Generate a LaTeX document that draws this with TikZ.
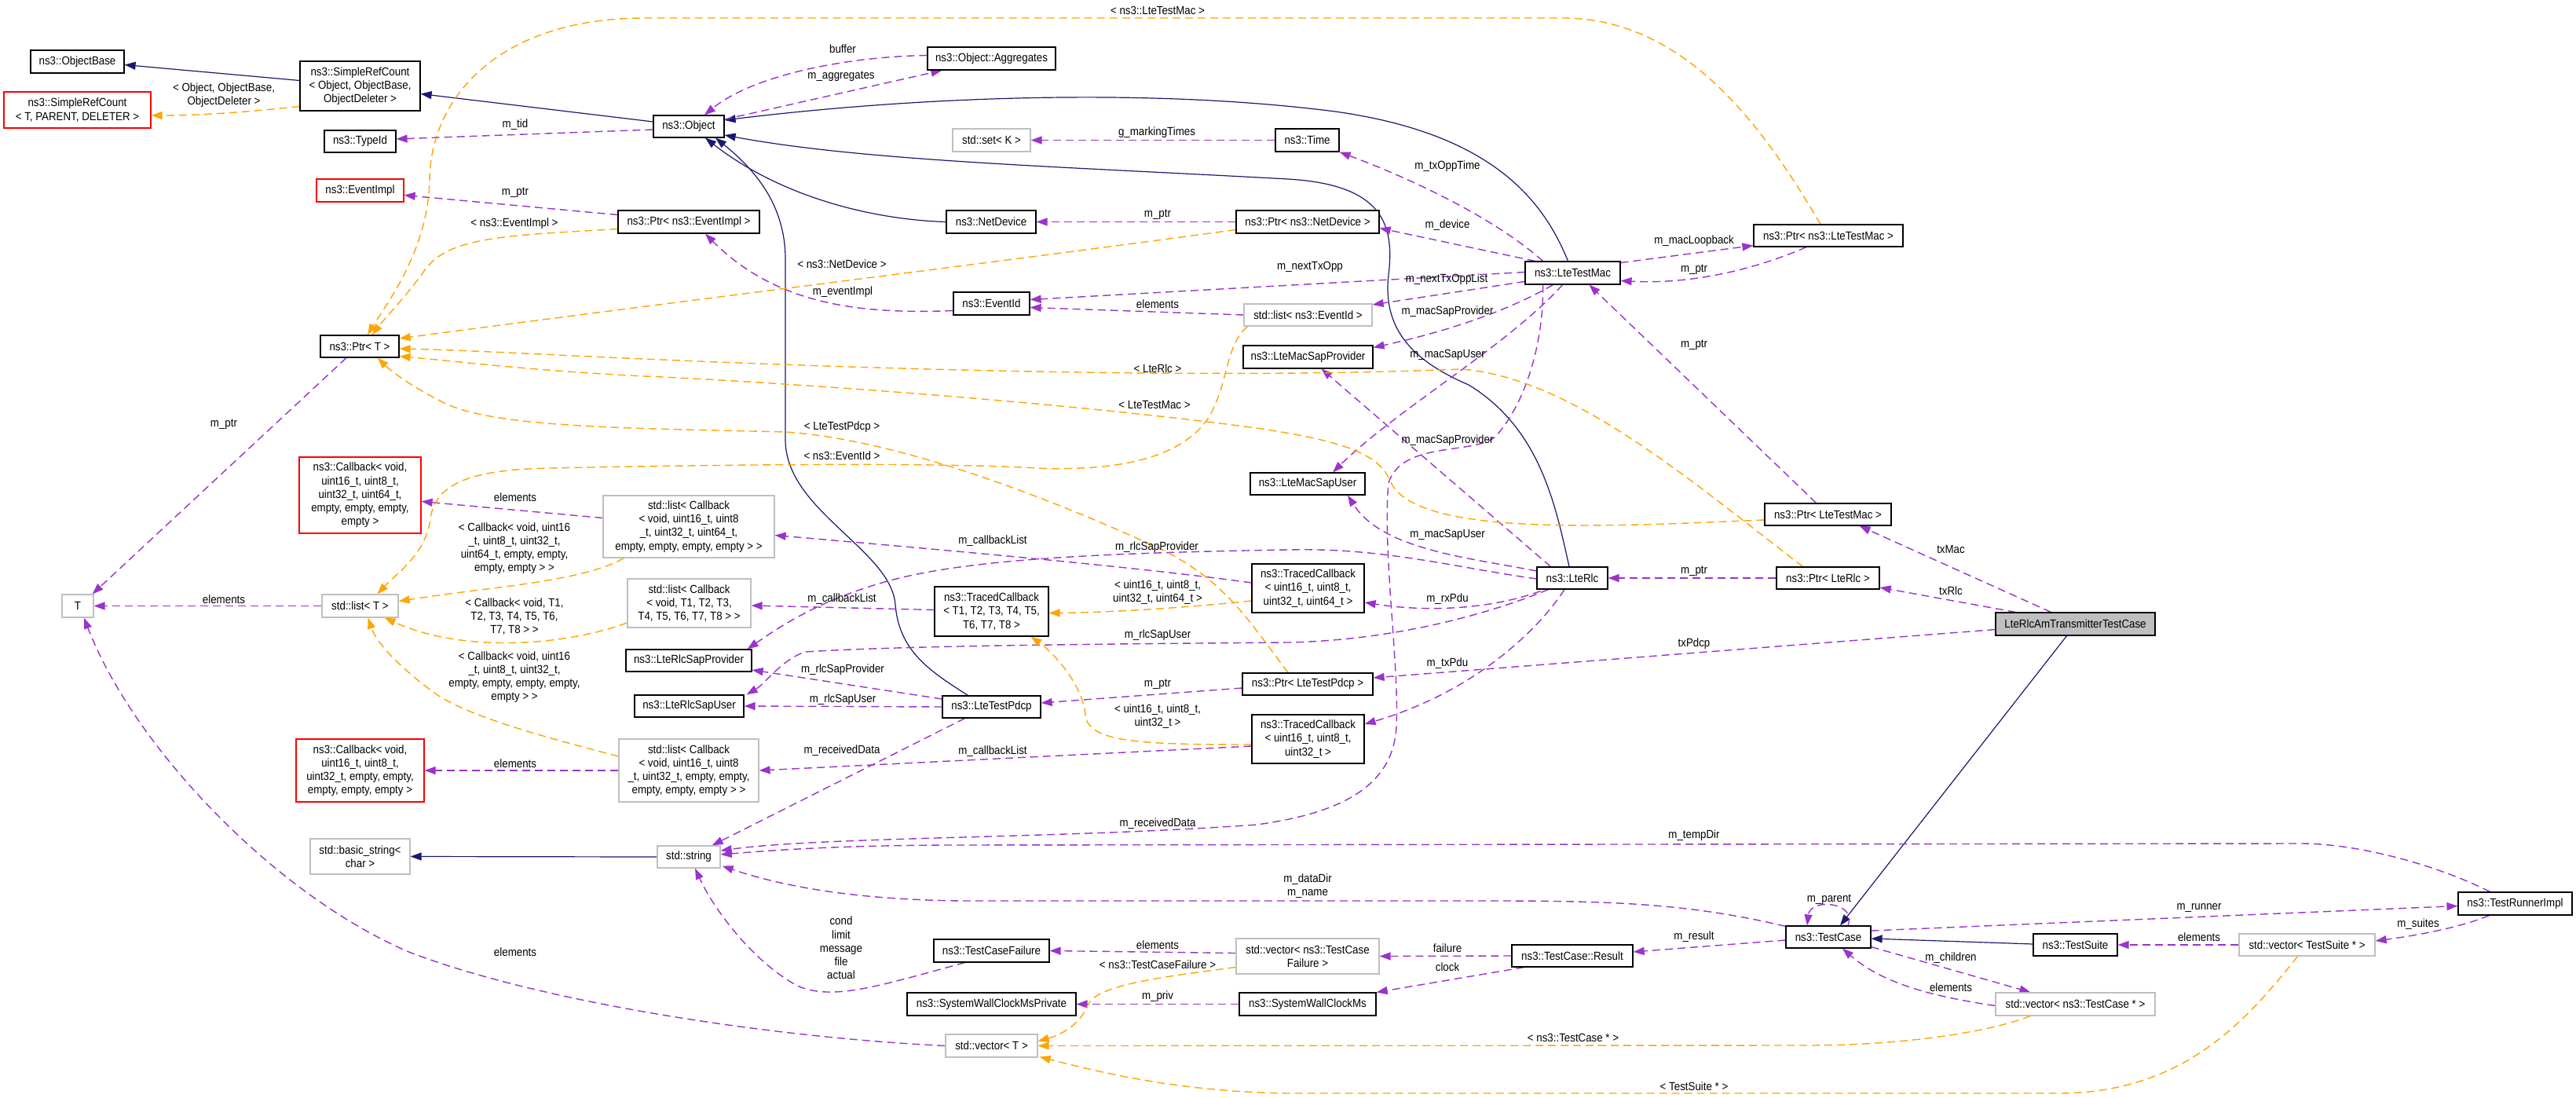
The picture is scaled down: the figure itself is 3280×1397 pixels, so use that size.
\documentclass[tikz,border=0pt]{standalone}
\usepackage{fontspec}
\setmainfont{Liberation Sans}[FakeStretch=0.9]
\usetikzlibrary{arrows.meta,calc,backgrounds}
\definecolor{navyc}{HTML}{191970}
\definecolor{purc}{HTML}{9A32CD}
\definecolor{orc}{HTML}{FFA500}
\definecolor{grayb}{HTML}{BFBFBF}
\definecolor{redb}{HTML}{FF0000}
\newcommand{\dxfont}{\fontsize{7.4}{8.6}\selectfont}
\tikzset{
  box/.style={draw=black, line width=0.6pt, rectangle, fill=white, inner sep=0pt, align=center, font=\dxfont},
  gbox/.style={box, draw=grayb},
  rbox/.style={box, draw=redb},
  sz/.style 2 args={minimum width=#1*0.5pt, minimum height=#2*0.5pt},
  lbl/.style={inner sep=0pt, align=center, font=\dxfont},
  inh/.style={draw=navyc, line width=0.6pt, -{Triangle[length=7pt,width=5pt]}},
  use/.style={draw=purc, line width=0.7pt, dash pattern=on 5pt off 3pt, -{Triangle[length=7pt,width=5pt]}},
  tmpl/.style={draw=orc, line width=0.7pt, dash pattern=on 5pt off 3pt, -{Triangle[length=7pt,width=5pt]}}
}
\begin{document}
\begin{tikzpicture}[x=0.5pt,y=-0.5pt]
\useasboundingbox (0,0) rectangle (3280,1397);
% ---------- nodes ----------
\node[box, sz={119}{29}] (objbase) at (98.5,78.5) {ns3::ObjectBase};
\node[box, sz={153}{63}] (src) at (458.5,109.5) {ns3::SimpleRefCount\\< Object, ObjectBase,\\ObjectDeleter >};
\node[rbox, sz={187}{46}] (srct) at (98.5,140) {ns3::SimpleRefCount\\< T, PARENT, DELETER >};
\node[box, sz={91}{28}] (typeid) at (458.5,180) {ns3::TypeId};
\node[rbox, sz={111}{29}] (eventimpl) at (458.5,242.5) {ns3::EventImpl};
\node[box, sz={100}{28}] (ptrt) at (458,441) {ns3::Ptr< T >};
\node[box, sz={163}{29}] (aggr) at (1262.5,74.5) {ns3::Object::Aggregates};
\node[box, sz={90}{28}] (object) at (877,161) {ns3::Object};
\node[gbox, sz={99}{29}] (setk) at (1262.5,178.5) {std::set< K >};
\node[box, sz={81}{29}] (time) at (1664.5,178.5) {ns3::Time};
\node[box, sz={114}{29}] (netdev) at (1262,282.5) {ns3::NetDevice};
\node[box, sz={180}{29}] (ptrev) at (877,282.5) {ns3::Ptr< ns3::EventImpl >};
\node[box, sz={97}{29}] (eventid) at (1262.5,386.5) {ns3::EventId};
\node[box, sz={182}{29}] (ptrnd) at (1665,282.5) {ns3::Ptr< ns3::NetDevice >};
\node[gbox, sz={163}{28}] (listev) at (1665.5,401) {std::list< ns3::EventId >};
\node[box, sz={165}{29}] (macprov) at (1665.5,454.5) {ns3::LteMacSapProvider};
\node[box, sz={121}{29}] (testmac) at (2002.5,347.5) {ns3::LteTestMac};
\node[box, sz={190}{28}] (ptrltm) at (2328,300) {ns3::Ptr< ns3::LteTestMac >};
\node[gbox, sz={40}{29}] (tnode) at (99,771.5) {T};
\node[gbox, sz={97}{29}] (listt) at (458.5,771.5) {std::list< T >};
\node[rbox, sz={155}{97}] (cbfive) at (458.5,630.5) {ns3::Callback< void,\\uint16\_t, uint8\_t,\\uint32\_t, uint64\_t,\\empty, empty, empty,\\empty >};
\node[gbox, sz={218}{79}] (listcba) at (877,670.5) {std::list< Callback\\< void, uint16\_t, uint8\\\_t, uint32\_t, uint64\_t,\\empty, empty, empty, empty > >};
\node[gbox, sz={157}{62}] (listcbt) at (877.5,768) {std::list< Callback\\< void, T1, T2, T3,\\T4, T5, T6, T7, T8 > >};
\node[box, sz={160}{28}] (rlcprov) at (877,841) {ns3::LteRlcSapProvider};
\node[box, sz={139}{28}] (rlcuser) at (877.5,899) {ns3::LteRlcSapUser};
\node[box, sz={145}{63}] (tcb) at (1262.5,778.5) {ns3::TracedCallback\\< T1, T2, T3, T4, T5,\\T6, T7, T8 >};
\node[box, sz={125}{28}] (pdcp) at (1262.5,900) {ns3::LteTestPdcp};
\node[box, sz={143}{62}] (tcfour) at (1665.5,749) {ns3::TracedCallback\\< uint16\_t, uint8\_t,\\uint32\_t, uint64\_t >};
\node[box, sz={166}{28}] (ptrpdcp) at (1665,871) {ns3::Ptr< LteTestPdcp >};
\node[box, sz={146}{28}] (macuser) at (1665,616) {ns3::LteMacSapUser};
\node[box, sz={90}{28}] (rlc) at (2002,736) {ns3::LteRlc};
\node[box, sz={161}{28}] (ptrltmb) at (2327.5,655) {ns3::Ptr< LteTestMac >};
\node[box, sz={131}{28}] (ptrrlc) at (2327.5,736) {ns3::Ptr< LteRlc >};
\node[box, sz={143}{62}] (tcthree) at (1665.5,941) {ns3::TracedCallback\\< uint16\_t, uint8\_t,\\uint32\_t >};
\node[box, fill=grayb, sz={203}{29}] (main) at (2642.5,794.5) {LteRlcAmTransmitterTestCase};
\node[rbox, sz={163}{80}] (cbfour) at (458.5,981) {ns3::Callback< void,\\uint16\_t, uint8\_t,\\uint32\_t, empty, empty,\\empty, empty, empty >};
\node[gbox, sz={127}{45}] (basicstr) at (458.5,1090.5) {std::basic\_string<\\char >};
\node[gbox, sz={178}{80}] (listcbe) at (877,981) {std::list< Callback\\< void, uint16\_t, uint8\\\_t, uint32\_t, empty, empty,\\empty, empty, empty > >};
\node[gbox, sz={80}{28}] (stdstr) at (877,1091) {std::string};
\node[box, sz={147}{29}] (tcf) at (1262.5,1210.5) {ns3::TestCaseFailure};
\node[box, sz={215}{29}] (swcp) at (1262.5,1278.5) {ns3::SystemWallClockMsPrivate};
\node[gbox, sz={117}{29}] (vect) at (1262.5,1331.5) {std::vector< T >};
\node[gbox, sz={182}{45}] (vectcf) at (1665,1217.5) {std::vector< ns3::TestCase\\Failure >};
\node[box, sz={174}{29}] (swc) at (1665,1278.5) {ns3::SystemWallClockMs};
\node[box, sz={154}{28}] (result) at (2002,1217) {ns3::TestCase::Result};
\node[box, sz={108}{28}] (testcase) at (2328,1193) {ns3::TestCase};
\node[box, sz={107}{28}] (testsuite) at (2642.5,1203) {ns3::TestSuite};
\node[gbox, sz={173}{28}] (vects) at (2937.5,1203) {std::vector< TestSuite * >};
\node[box, sz={145}{29}] (runner) at (3202.5,1150.5) {ns3::TestRunnerImpl};
\node[gbox, sz={203}{29}] (vectc) at (2642.5,1278.5) {std::vector< ns3::TestCase * >};
% ---------- edges ----------
\begin{pgfonlayer}{background}
\fill[white] (0,0) rectangle (3280,1397);
% inheritance
\draw[inh] ($(src.west)+(0,-7)$) -- ($(objbase.east)+(0,4)$);
\draw[inh] ($(object.west)+(0,-6)$) -- ($(src.east)+(0,10)$);
\draw[inh] (netdev.west) .. controls (1120,280) and (1000,255) .. ($(object.south)+(21,0)$);
\draw[inh] ($(pdcp.north)+(-30,0)$) .. controls (1185,855) and (1145,830) .. (1140,770) .. controls (1135,700) and (1000,650) .. (1000,560) -- (1000,330) .. controls (1000,260) and (960,215) .. ($(object.south)+(34,0)$);
\draw[inh] ($(testmac.north)+(-6,0)$) .. controls (1965,255) and (1900,170) .. (1700,142) .. controls (1450,110) and (1150,125) .. ($(object.east)+(0,-8)$);
\draw[inh] ($(rlc.north)+(-4,0)$) .. controls (1980,640) and (1960,545) .. (1870,490) .. controls (1800,460) and (1760,420) .. (1768,350) .. controls (1776,285) and (1760,235) .. (1640,228) .. controls (1350,212) and (1100,205) .. ($(object.east)+(0,11)$);
\draw[inh] (stdstr.west) -- (basicstr.east);
\draw[inh] ($(main.south)+(-11,0)$) -- ($(testcase.north)+(15,0)$);
\draw[inh] ($(testsuite.west)+(0,-1)$) -- ($(testcase.east)+(0,2)$);
% usage
\draw[use] ($(object.west)+(0,4)$) -- ($(typeid.east)+(0,-3)$);
\draw[use] ($(aggr.west)+(0,-4)$) .. controls (1080,72) and (960,95) .. ($(object.north)+(20,0)$);
\draw[use] ($(object.east)+(0,-9)$) -- ($(aggr.south west)+(19,0)$);
\draw[use] ($(ptrev.west)+(0,-9)$) -- ($(eventimpl.east)+(0,6)$);
\draw[use] ($(ptrt.south)+(-17,0)$) -- ($(tnode.north east)+(-2,0)$);
\draw[use] (time.west) -- (setk.east);
\draw[use] (ptrnd.west) -- (netdev.east);
\draw[use] ($(eventid.west)+(0,9)$) .. controls (1100,400) and (990,390) .. ($(ptrev.south)+(21,0)$);
\draw[use] (listev.west) -- ($(eventid.east)+(0,5)$);
\draw[use] ($(testmac.north)+(-38,0)$) .. controls (1900,275) and (1790,225) .. (time.south east);
\draw[use] ($(testmac.north west)+(13,0)$) -- ($(ptrnd.east)+(0,8)$);
\draw[use] ($(testmac.west)+(0,-1)$) -- ($(eventid.east)+(0,-5)$);
\draw[use] ($(testmac.west)+(0,11)$) -- ($(listev.east)+(0,-13)$);
\draw[use] ($(testmac.south)+(-25,0)$) .. controls (1930,390) and (1860,418) .. ($(macprov.east)+(0,-12)$);
\draw[use] ($(testmac.south)+(-13,0)$) .. controls (1920,440) and (1780,520) .. ($(macuser.north)+(32,0)$);
\draw[use] ($(testmac.east)+(0,-13)$) -- ($(ptrltm.south west)+(0,-2)$);
\draw[use] ($(ptrltm.south)+(-28,0)$) .. controls (2230,345) and (2150,362) .. ($(testmac.east)+(0,10)$);
\draw[use] ($(ptrltmb.north)+(-15,0)$) -- ($(testmac.south)+(21,0)$);
\draw[use] ($(testmac.south)+(-38,0)$) .. controls (1966,430) and (1945,510) .. (1905,555) .. controls (1880,580) and (1785,560) .. (1768,615) .. controls (1760,700) and (1782,850) .. (1778,925) .. controls (1774,1000) and (1710,1035) .. (1600,1050) .. controls (1350,1068) and (1050,1065) .. ($(stdstr.east)+(0,-8)$);
\draw[use] ($(rlc.north west)+(18,0)$) -- ($(macprov.south)+(17,0)$);
\draw[use] ($(rlc.west)+(0,-9)$) .. controls (1870,710) and (1760,700) .. ($(macuser.south)+(51,0)$);
\draw[use] ($(tcfour.west)+(0,-7)$) .. controls (1450,722) and (1200,700) .. ($(listcba.east)+(0,11)$);
\draw[use] ($(tcb.west)+(0,-2)$) -- ($(listcbt.east)+(0,3)$);
\draw[use] ($(tcthree.west)+(0,9)$) -- (listcbe.east);
\draw[use] ($(rlc.south west)+(5,2)$) .. controls (1900,775) and (1820,780) .. ($(tcfour.east)+(0,18)$);
\draw[use] ($(rlc.south)+(-10,0)$) .. controls (1960,800) and (1880,880) .. ($(tcthree.east)+(0,-19)$);
\draw[use] ($(rlc.west)+(0,1)$) .. controls (1850,722) and (1760,697) .. (1640,700) .. controls (1400,704) and (1230,712) .. (1130,740) .. controls (1040,765) and (990,800) .. ($(rlcprov.north east)+(-6,0)$);
\draw[use] ($(rlc.south west)+(15,0)$) .. controls (1900,780) and (1780,815) .. (1640,818) .. controls (1400,820) and (1150,822) .. (1025,830) .. controls (995,840) and (975,870) .. ($(rlcuser.north east)+(3,0)$);
\draw[use] ($(pdcp.west)+(0,-10)$) -- ($(rlcprov.east)+(0,12)$);
\draw[use] (pdcp.west) -- (rlcuser.east);
\draw[use] ($(ptrpdcp.west)+(0,5)$) -- ($(pdcp.east)+(0,-5)$);
\draw[use] ($(pdcp.south)+(-34,0)$) -- ($(stdstr.north east)+(-11,0)$);
\draw[use] ($(main.north)+(-31,0)$) -- ($(ptrltmb.south east)+(-41,0)$);
\draw[use] ($(main.north)+(-76,0)$) -- ($(ptrrlc.east)+(0,12)$);
\draw[use] ($(main.west)+(0,7)$) -- ($(ptrpdcp.east)+(0,-8)$);
\draw[use] (ptrrlc.west) -- (rlc.east);
\draw[use] ($(testcase.north west)+(0,1)$) .. controls (2150,1150) and (2050,1147) .. (1900,1147) -- (1240,1147) .. controls (1100,1147) and (1000,1130) .. ($(stdstr.south east)+(2,-3)$);
\draw[use] ($(runner.north)+(-32,0)$) .. controls (3100,1100) and (3000,1074) .. (2930,1074) -- (1200,1076) .. controls (1050,1077) and (980,1083) .. ($(stdstr.east)+(0,-3)$);
\draw[use] ($(testcase.north)+(25,0)$) .. controls (2365,1148) and (2305,1143) .. ($(testcase.north)+(-27,0)$);
\draw[use] ($(testcase.west)+(0,4)$) -- ($(result.east)+(0,-5)$);
\draw[use] (result.west) -- (vectcf.east);
\draw[use] ($(result.south west)+(16,0)$) -- (swc.north east);
\draw[use] ($(vectcf.west)+(0,-4)$) -- (tcf.east);
\draw[use] (swc.west) -- (swcp.east);
\draw[use] ($(tcf.south)+(-34,0)$) .. controls (1120,1255) and (1060,1275) .. (1015,1255) .. controls (960,1225) and (910,1160) .. ($(stdstr.south)+(8,0)$);
\draw[use] (vect.west) .. controls (1000,1322) and (700,1280) .. (523,1213) .. controls (350,1140) and (170,950) .. ($(tnode.south)+(8,0)$);
\draw[use] (listt.west) -- (tnode.east);
\draw[use] ($(listcba.west)+(0,-11)$) -- ($(cbfive.east)+(0,8)$);
\draw[use] (listcbe.west) -- (cbfour.east);
\draw[use] ($(testcase.east)+(0,-8)$) -- ($(runner.west)+(0,3)$);
\draw[use] ($(runner.south)+(-33,0)$) .. controls (3130,1182) and (3070,1192) .. ($(vects.east)+(0,-5)$);
\draw[use] (vects.west) -- (testsuite.east);
\draw[use] ($(testcase.south east)+(0,-2)$) -- ($(vectc.north)+(-57,0)$);
\draw[use] ($(vectc.west)+(0,2)$) .. controls (2470,1270) and (2400,1255) .. ($(testcase.south)+(18,0)$);
% template instances
\draw[tmpl] ($(src.west)+(0,26)$) .. controls (320,142) and (260,147) .. ($(srct.east)+(0,7)$);
\draw[tmpl] ($(ptrltm.north)+(-10,0)$) .. controls (2250,170) and (2150,23) .. (1990,23) -- (820,23) .. controls (640,23) and (548,120) .. (547,230) .. controls (545,320) and (490,390) .. ($(ptrt.north)+(10,0)$);
\draw[tmpl] ($(ptrev.west)+(0,9)$) .. controls (650,300) and (570,300) .. (540,345) .. controls (515,380) and (490,405) .. ($(ptrt.north)+(16,0)$);
\draw[tmpl] ($(ptrnd.west)+(0,10)$) .. controls (1300,330) and (800,392) .. ($(ptrt.east)+(0,-10)$);
\draw[tmpl] ($(ptrrlc.north)+(-32,0)$) .. controls (2150,610) and (2000,480) .. (1860,470) .. controls (1500,485) and (1000,465) .. (820,457) .. controls (700,452) and (600,446) .. ($(ptrt.east)+(0,3)$);
\draw[tmpl] ($(ptrltmb.west)+(0,7)$) .. controls (2050,670) and (1800,685) .. (1770,612) .. controls (1755,575) and (1700,560) .. (1600,545) .. controls (1300,505) and (900,482) .. (820,479) .. controls (680,472) and (580,460) .. ($(ptrt.south east)+(0,-2)$);
\draw[tmpl] ($(ptrpdcp.north)+(-25,0)$) .. controls (1590,790) and (1560,740) .. (1480,700) .. controls (1350,640) and (1150,560) .. (1000,550) .. controls (800,545) and (620,545) .. (560,510) .. controls (520,490) and (495,470) .. ($(ptrt.south)+(23,0)$);
\draw[tmpl] ($(listev.south west)+(5,0)$) .. controls (1560,440) and (1565,485) .. (1540,530) .. controls (1505,585) and (1420,600) .. (1320,596) .. controls (1180,588) and (900,592) .. (700,596) .. controls (600,598) and (555,615) .. (548,660) .. controls (543,705) and (505,730) .. ($(listt.north)+(22,0)$);
\draw[tmpl] ($(listcba.south west)+(27,0)$) .. controls (760,730) and (700,740) .. (620,750) .. controls (570,756) and (530,762) .. ($(listt.east)+(0,-6)$);
\draw[tmpl] ($(listcbt.west)+(0,25)$) .. controls (720,822) and (590,832) .. ($(listt.south east)+(-18,0)$);
\draw[tmpl] ($(listcbe.west)+(0,-18)$) .. controls (680,935) and (590,910) .. (550,880) .. controls (510,850) and (480,820) .. ($(listt.south)+(10,0)$);
\draw[tmpl] ($(tcfour.west)+(0,16)$) .. controls (1500,775) and (1400,780) .. ($(tcb.east)+(0,2)$);
\draw[tmpl] ($(tcthree.west)+(0,7)$) .. controls (1450,948) and (1385,945) .. (1382,910) .. controls (1378,870) and (1340,830) .. ($(tcb.south)+(50,0)$);
\draw[tmpl] ($(vectcf.west)+(0,14)$) .. controls (1470,1245) and (1395,1255) .. (1385,1280) .. controls (1375,1305) and (1350,1318) .. ($(vect.east)+(0,-6)$);
\draw[tmpl] ($(vectc.south west)+(45,0)$) .. controls (2530,1315) and (2420,1331) .. (2300,1331) -- (vect.east);
\draw[tmpl] ($(vects.south)+(-12,0)$) .. controls (2860,1300) and (2780,1392) .. (2620,1392) -- (1640,1392) .. controls (1500,1390) and (1400,1365) .. ($(vect.south east)+(2,-1)$);
\end{pgfonlayer}
% ---------- labels ----------
\node[lbl] (la01) at (285,121) {< Object, ObjectBase,\\ObjectDeleter >};
\node[lbl] (la02) at (656,159) {m\_tid};
\node[lbl] (la03) at (656,245) {m\_ptr};
\node[lbl] (la04) at (655,285) {< ns3::EventImpl >};
\node[lbl] (la05) at (1474,13) {< ns3::LteTestMac >};
\node[lbl] (la06) at (1073,62) {buffer};
\node[lbl] (la07) at (1071,97) {m\_aggregates};
\node[lbl] (la08) at (1473,169) {g\_markingTimes};
\node[lbl] (la09) at (1474,273) {m\_ptr};
\node[lbl] (la10) at (1072,336) {< ns3::NetDevice >};
\node[lbl] (la11) at (1073,372) {m\_eventImpl};
\node[lbl] (la12) at (1474,387) {elements};
\node[lbl] (la13) at (1668,340) {m\_nextTxOpp};
\node[lbl] (la14) at (1843,212) {m\_txOppTime};
\node[lbl] (la15) at (1843,287) {m\_device};
\node[lbl] (la16) at (2157,307) {m\_macLoopback};
\node[lbl] (la17) at (2157,343) {m\_ptr};
\node[lbl] (la18) at (1842,356) {m\_nextTxOppList};
\node[lbl] (la19) at (1843,397) {m\_macSapProvider};
\node[lbl] (la20) at (1843,452) {m\_macSapUser};
\node[lbl] (la21) at (2157,439) {m\_ptr};
\node[lbl] (la22) at (285,540) {m\_ptr};
\node[lbl] (la23) at (656,633) {elements};
\node[lbl] (la24) at (285,763) {elements};
\node[lbl] (la25) at (655,698) {< Callback< void, uint16\\\_t, uint8\_t, uint32\_t,\\uint64\_t, empty, empty,\\empty, empty > >};
\node[lbl] (la26) at (655,785) {< Callback< void, T1,\\T2, T3, T4, T5, T6,\\T7, T8 > >};
\node[lbl] (la27) at (655,862) {< Callback< void, uint16\\\_t, uint8\_t, uint32\_t,\\empty, empty, empty, empty,\\empty > >};
\node[lbl] (la28) at (1474,469) {< LteRlc >};
\node[lbl] (la29) at (1470,515) {< LteTestMac >};
\node[lbl] (la30) at (1072,544) {< LteTestPdcp >};
\node[lbl] (la31) at (1072,580) {< ns3::EventId >};
\node[lbl] (la32) at (1264,689) {m\_callbackList};
\node[lbl] (la33) at (1473,697) {m\_rlcSapProvider};
\node[lbl] (la34) at (1072,763) {m\_callbackList};
\node[lbl] (la35) at (1474,754) {< uint16\_t, uint8\_t,\\uint32\_t, uint64\_t >};
\node[lbl] (la36) at (1474,809) {m\_rlcSapUser};
\node[lbl] (la37) at (1073,853) {m\_rlcSapProvider};
\node[lbl] (la38) at (1474,871) {m\_ptr};
\node[lbl] (la39) at (1073,891) {m\_rlcSapUser};
\node[lbl] (la40) at (1474,912) {< uint16\_t, uint8\_t,\\uint32\_t >};
\node[lbl] (la41) at (1843,561) {m\_macSapProvider};
\node[lbl] (la42) at (1843,681) {m\_macSapUser};
\node[lbl] (la43) at (2157,727) {m\_ptr};
\node[lbl] (la44) at (1843,763) {m\_rxPdu};
\node[lbl] (la45) at (2157,820) {txPdcp};
\node[lbl] (la46) at (1843,845) {m\_txPdu};
\node[lbl] (la47) at (2484,699) {txMac};
\node[lbl] (la48) at (2484,752) {txRlc};
\node[lbl] (la49) at (656,972) {elements};
\node[lbl] (la50) at (656,1212) {elements};
\node[lbl] (la51) at (1072,956) {m\_receivedData};
\node[lbl] (la52) at (1264,957) {m\_callbackList};
\node[lbl] (la53) at (1474,1049) {m\_receivedData};
\node[lbl] (la54) at (1071,1207) {cond\\limit\\message\\file\\actual};
\node[lbl] (la55) at (1474,1203) {elements};
\node[lbl] (la56) at (1474,1228) {< ns3::TestCaseFailure >};
\node[lbl] (la57) at (1474,1269) {m\_priv};
\node[lbl] (la58) at (2157,1064) {m\_tempDir};
\node[lbl] (la59) at (1665,1128) {m\_dataDir\\m\_name};
\node[lbl] (la60) at (2329,1145) {m\_parent};
\node[lbl] (la61) at (2157,1193) {m\_result};
\node[lbl] (la62) at (1843,1207) {failure};
\node[lbl] (la63) at (1843,1231) {clock};
\node[lbl] (la64) at (2003,1321) {< ns3::TestCase * >};
\node[lbl] (la65) at (2157,1383) {< TestSuite * >};
\node[lbl] (la66) at (2800,1156) {m\_runner};
\node[lbl] (la67) at (3079,1177) {m\_suites};
\node[lbl] (la68) at (2800,1193) {elements};
\node[lbl] (la69) at (2484,1220) {m\_children};
\node[lbl] (la70) at (2484,1257) {elements};
\end{tikzpicture}
\end{document}
